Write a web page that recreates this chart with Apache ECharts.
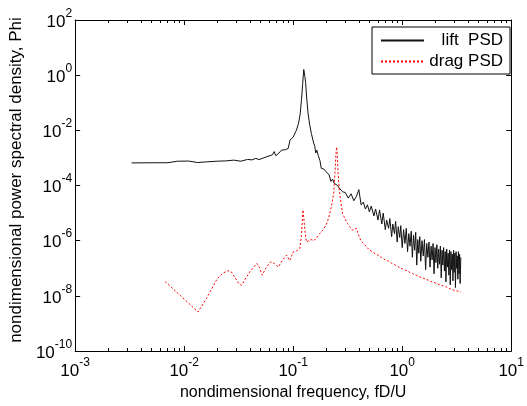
<!DOCTYPE html>
<html>
<head>
<meta charset="utf-8">
<script src="https://cdn.jsdelivr.net/npm/echarts@6/dist/echarts.min.js"></script>
<style>
  html, body { margin: 0; padding: 0; background: #fff; }
  #chart { width: 527px; height: 406px; }
</style>
</head>
<body>
<div id="chart"></div>
<script>
// lift PSD (black solid)
const liftFreq = [
  0.0033, 0.0071, 0.0087, 0.0110, 0.0133, 0.0160, 0.020, 0.024, 0.0285, 0.0331,
  0.0381, 0.042, 0.0454, 0.0487, 0.057, 0.0646, 0.0669, 0.0693, 0.074, 0.078,
  0.085, 0.090, 0.0935, 0.100, 0.107, 0.112, 0.116, 0.119, 0.122, 0.125,
  0.128, 0.130, 0.133, 0.137, 0.142, 0.147, 0.154, 0.158, 0.161, 0.165,
  0.170, 0.176, 0.181, 0.186, 0.192, 0.200, 0.207, 0.214, 0.222, 0.230,
  0.238, 0.246, 0.255, 0.265, 0.275, 0.284, 0.292,
  0.30, 0.32, 0.34, 0.36, 0.38, 0.40, 0.42, 0.44, 0.46, 0.48,
  0.50, 0.52, 0.55, 0.57, 0.60, 0.62, 0.65, 0.67, 0.70, 0.72,
  0.75, 0.77, 0.80, 0.82, 0.85, 0.87, 0.90, 0.92, 0.95, 0.97,
  1.00, 1.03, 1.06, 1.09, 1.12, 1.15, 1.18, 1.21, 1.24, 1.27,
  1.30, 1.33, 1.36, 1.39, 1.42, 1.45, 1.48, 1.52, 1.56, 1.60,
  1.64, 1.68, 1.72, 1.76, 1.80, 1.84, 1.88, 1.92, 1.96, 2.00,
  2.04, 2.08, 2.12, 2.16, 2.20, 2.24, 2.28, 2.32, 2.36, 2.40,
  2.44, 2.48, 2.52, 2.56, 2.60, 2.64, 2.68, 2.72, 2.76, 2.80,
  2.84, 2.88, 2.92, 2.96, 3.00, 3.04, 3.08, 3.12, 3.16, 3.20,
  3.24, 3.28, 3.32, 3.36, 3.40, 3.45
];
const liftPsd = [
  6.6e-4, 6.7e-4, 7.6e-4, 7.7e-4, 6.8e-4, 7.2e-4, 7.6e-4, 7.8e-4, 8.3e-4, 7.6e-4,
  8.8e-4, 8.5e-4, 9.6e-4, 8.7e-4, 1.1e-3, 1.3e-3, 1.7e-3, 1.2e-3, 1.5e-3, 1.9e-3,
  2.0e-3, 2.2e-3, 4.4e-3, 5.7e-3, 1.0e-2, 1.8e-2, 4.0e-2, 0.12, 0.45, 1.6,
  0.9, 0.55, 0.15, 4.1e-2, 1.5e-2, 7.6e-3, 3.5e-3, 2.6e-3, 1.5e-3, 1.9e-3,
  1.2e-3, 8.0e-4, 4.2e-4, 3.6e-4, 3.9e-4, 3.2e-4, 3.0e-4, 2.4e-4, 1.4e-4, 1.7e-4,
  1.2e-4, 1.4e-4, 1.0e-4, 8.0e-5, 7.5e-5, 5.9e-5, 6.5e-5,
  5.6e-5, 3.5e-5, 5.0e-5, 2.8e-5, 4.0e-5, 7.1e-5, 2.0e-5, 2.5e-5, 1.4e-5, 2.0e-5,
  1.1e-5, 1.8e-5, 7.9e-6, 1.4e-5, 5.6e-6, 1.3e-5, 4.0e-6, 1.0e-5, 2.5e-6, 5.6e-6,
  2.8e-6, 6.3e-6, 1.4e-6, 4.0e-6, 1.8e-6, 5.0e-6, 8.9e-7, 3.2e-6, 1.3e-6, 3.5e-6,
  5.6e-7, 2.5e-6, 7.9e-7, 2.8e-6, 4.0e-7, 1.8e-6, 6.3e-7, 2.2e-6, 2.5e-7, 1.6e-6,
  4.5e-7, 2.0e-6, 1.3e-7, 1.1e-6, 3.5e-7, 1.4e-6, 1.8e-7, 1.0e-6, 2.8e-7, 1.1e-6,
  8.9e-8, 7.9e-7, 2.5e-7, 8.9e-7, 1.1e-7, 6.3e-7, 2.0e-7, 7.9e-7, 6.3e-8, 5.6e-7,
  1.6e-7, 7.1e-7, 1.0e-7, 5.0e-7, 1.4e-7, 6.3e-7, 4.5e-8, 4.5e-7, 1.3e-7, 5.6e-7,
  7.9e-8, 4.0e-7, 3.2e-8, 5.0e-7, 1.1e-7, 3.5e-7, 5.6e-8, 4.5e-7, 2.5e-8, 4.0e-7,
  8.9e-8, 3.2e-7, 3.5e-8, 4.5e-7, 7.1e-8, 3.5e-7, 2.0e-8, 4.0e-7, 1.0e-7, 2.8e-7,
  4.0e-8, 4.0e-7, 6.3e-8, 3.2e-7, 2.8e-8, 2.5e-7
];

// drag PSD (red dashed)
const dragFreq = [
  0.0067, 0.0134, 0.0160, 0.0202, 0.0225, 0.0250, 0.0270, 0.0317, 0.0336, 0.0390,
  0.0465, 0.0490, 0.0520, 0.0560, 0.0620, 0.0670, 0.0730, 0.0800, 0.0870, 0.0930,
  0.100, 0.108, 0.115, 0.119, 0.123, 0.126, 0.128, 0.132, 0.137, 0.146,
  0.155, 0.165, 0.175, 0.190, 0.205, 0.217, 0.228, 0.236, 0.242, 0.247,
  0.250, 0.254, 0.258, 0.265, 0.275, 0.284, 0.300, 0.315, 0.330, 0.350,
  0.365, 0.380, 0.398, 0.418, 0.45, 0.50, 0.55, 0.60, 0.65, 0.70,
  0.75, 0.80, 0.85, 0.90, 0.95, 1.00, 1.06, 1.12, 1.18, 1.24,
  1.30, 1.36, 1.43, 1.50, 1.58, 1.66, 1.74, 1.82, 1.90, 1.98,
  2.06, 2.14, 2.22, 2.30, 2.38, 2.46, 2.54, 2.62, 2.70, 2.78,
  2.86, 2.94, 3.02, 3.10, 3.18, 3.26, 3.34, 3.45
];
const dragPsd = [
  3.3e-8, 2.6e-9, 8.0e-9, 4.3e-8, 6.5e-8, 8.1e-8, 7.5e-8, 2.8e-8, 2.4e-8, 6.5e-8,
  1.5e-7, 1.1e-7, 5.6e-8, 1.0e-7, 1.7e-7, 1.5e-7, 1.1e-7, 2.0e-7, 3.0e-7, 1.9e-7,
  3.9e-7, 4.3e-7, 5.2e-7, 1.5e-6, 1.3e-5, 5.0e-6, 2.4e-6, 9.0e-7, 7.9e-7, 1.1e-6,
  1.0e-6, 1.3e-6, 1.8e-6, 2.6e-6, 4.5e-6, 9.8e-6, 2.5e-5, 6.0e-5, 3.0e-4, 1.5e-3,
  2.5e-3, 1.2e-3, 3.0e-4, 6.8e-5, 2.2e-5, 9.8e-6, 6.0e-6, 4.2e-6, 3.2e-6, 2.4e-6,
  2.2e-6, 2.8e-6, 1.6e-6, 1.0e-6, 7.2e-7, 4.6e-7, 3.6e-7, 3.0e-7, 2.4e-7, 2.0e-7,
  1.8e-7, 1.5e-7, 1.35e-7, 1.2e-7, 1.05e-7, 9.5e-8, 8.6e-8, 8.0e-8, 7.0e-8, 6.5e-8,
  5.8e-8, 5.5e-8, 5.0e-8, 4.6e-8, 4.3e-8, 3.9e-8, 3.7e-8, 3.3e-8, 3.2e-8, 2.8e-8,
  2.8e-8, 2.5e-8, 2.5e-8, 2.2e-8, 2.3e-8, 2.0e-8, 2.1e-8, 1.8e-8, 1.85e-8, 1.6e-8,
  1.7e-8, 1.45e-8, 1.55e-8, 1.35e-8, 1.5e-8, 1.3e-8, 1.45e-8, 1.35e-8
];

// minor ticks of the frequency axis (2..9 in each decade)
const xMinorTicks = [
  0.002, 0.003, 0.004, 0.005, 0.006, 0.007, 0.008, 0.009,
  0.02, 0.03, 0.04, 0.05, 0.06, 0.07, 0.08, 0.09,
  0.2, 0.3, 0.4, 0.5, 0.6, 0.7, 0.8, 0.9,
  2, 3, 4, 5, 6, 7, 8, 9
];

// legend texts as shown (MATLAB pads "lift" with an extra space)
const legendText = { 'lift PSD': 'lift  PSD', 'drag PSD': 'drag PSD' };

const FONT = "'Liberation Sans', Arial, sans-serif";

function zip(xs, ys) {
  return xs.map((x, i) => [x, ys[i]]);
}

// 10^n 形式的刻度标签
function powLabel(value) {
  const exp = Math.round(Math.log10(value));
  return '{b|10}{s|' + exp + '}';
}

const labelRich = {
  b: { fontSize: 17, fontFamily: FONT, color: '#000', verticalAlign: 'bottom', padding: [0, 0, 2, 0] },
  s: { fontSize: 12, fontFamily: FONT, color: '#000', verticalAlign: 'top', padding: [0, 0, 13, 0] },
};

const chart = echarts.init(document.getElementById('chart'));

const option = {
  animation: false,
  backgroundColor: '#fff',
  grid: { left: 73, right: 14, top: 20, bottom: 55 },
  legend: {
    orient: 'vertical',
    left: 372,
    top: 27,
    padding: [5, 7, 4, 8],
    itemGap: 4,
    itemWidth: 43,
    itemHeight: 10,
    borderColor: '#000',
    borderWidth: 1,
    borderRadius: 0,
    backgroundColor: '#fff',
    itemStyle: { opacity: 0 },
    data: ['lift PSD', 'drag PSD'],
    formatter: (name) => '{t|' + legendText[name] + '}',
    textStyle: {
      rich: { t: { width: 74, align: 'right', fontSize: 17, fontFamily: FONT, color: '#000' } },
    },
  },
  xAxis: [
    {
      type: 'log',
      logBase: 10,
      min: 0.001,
      max: 10,
      axisLine: { lineStyle: { color: '#000', width: 1 } },
      axisTick: { inside: true, length: 5, lineStyle: { color: '#000' } },
      axisLabel: { formatter: powLabel, margin: 6, rich: labelRich },
      splitLine: { show: false },
      name: 'nondimensional frequency, fD/U',
      nameLocation: 'middle',
      nameGap: 32,
      nameTextStyle: { fontSize: 16, fontFamily: FONT, color: '#000' },
    },
    {
      type: 'log',
      logBase: 10,
      min: 0.001,
      max: 10,
      position: 'top',
      axisLine: { lineStyle: { color: '#000', width: 1 } },
      axisTick: { inside: true, length: 5, lineStyle: { color: '#000' } },
      axisLabel: { show: false },
      splitLine: { show: false },
    },
  ],
  yAxis: [
    {
      type: 'log',
      logBase: 10,
      min: 1e-10,
      max: 100,
      interval: 2,
      axisLine: { lineStyle: { color: '#000', width: 1 } },
      axisTick: { inside: true, length: 5, lineStyle: { color: '#000' } },
      axisLabel: { formatter: powLabel, margin: 3, rich: labelRich },
      splitLine: { show: false },
      name: 'nondimensional power spectral density, Phi',
      nameLocation: 'middle',
      nameGap: 48,
      nameTextStyle: { fontSize: 17, fontFamily: FONT, color: '#000', padding: [0, 0, 0, 11] },
    },
    {
      type: 'log',
      logBase: 10,
      min: 1e-10,
      max: 100,
      interval: 2,
      position: 'right',
      axisLine: { lineStyle: { color: '#000', width: 1 } },
      axisTick: { inside: true, length: 5, lineStyle: { color: '#000' } },
      axisLabel: { show: false },
      splitLine: { show: false },
    },
  ],
  series: [
    {
      name: 'lift PSD',
      type: 'line',
      data: zip(liftFreq, liftPsd),
      symbol: 'none',
      lineStyle: { color: '#111', width: 1 },
      itemStyle: { color: '#111' },
    },
    {
      name: 'drag PSD',
      type: 'line',
      data: zip(dragFreq, dragPsd),
      symbol: 'none',
      lineStyle: { color: '#ff0000', width: 1, type: [2, 2] },
      itemStyle: { color: '#ff0000' },
    },
    {
      // x 轴次刻度（上下两边，朝内）
      type: 'custom',
      silent: true,
      data: xMinorTicks.map((v) => [v, 1e-10]),
      renderItem: function (params, api) {
        const b = api.coord([api.value(0), 1e-10]);
        const t = api.coord([api.value(0), 100]);
        const x = Math.round(b[0]) + 0.5;
        const style = { stroke: '#000', lineWidth: 1 };
        return {
          type: 'group',
          children: [
            { type: 'line', shape: { x1: x, y1: b[1], x2: x, y2: b[1] - 3 }, style },
            { type: 'line', shape: { x1: x, y1: t[1], x2: x, y2: t[1] + 3 }, style },
          ],
        };
      },
    },
  ],
};

chart.setOption(option);
</script>
</body>
</html>
